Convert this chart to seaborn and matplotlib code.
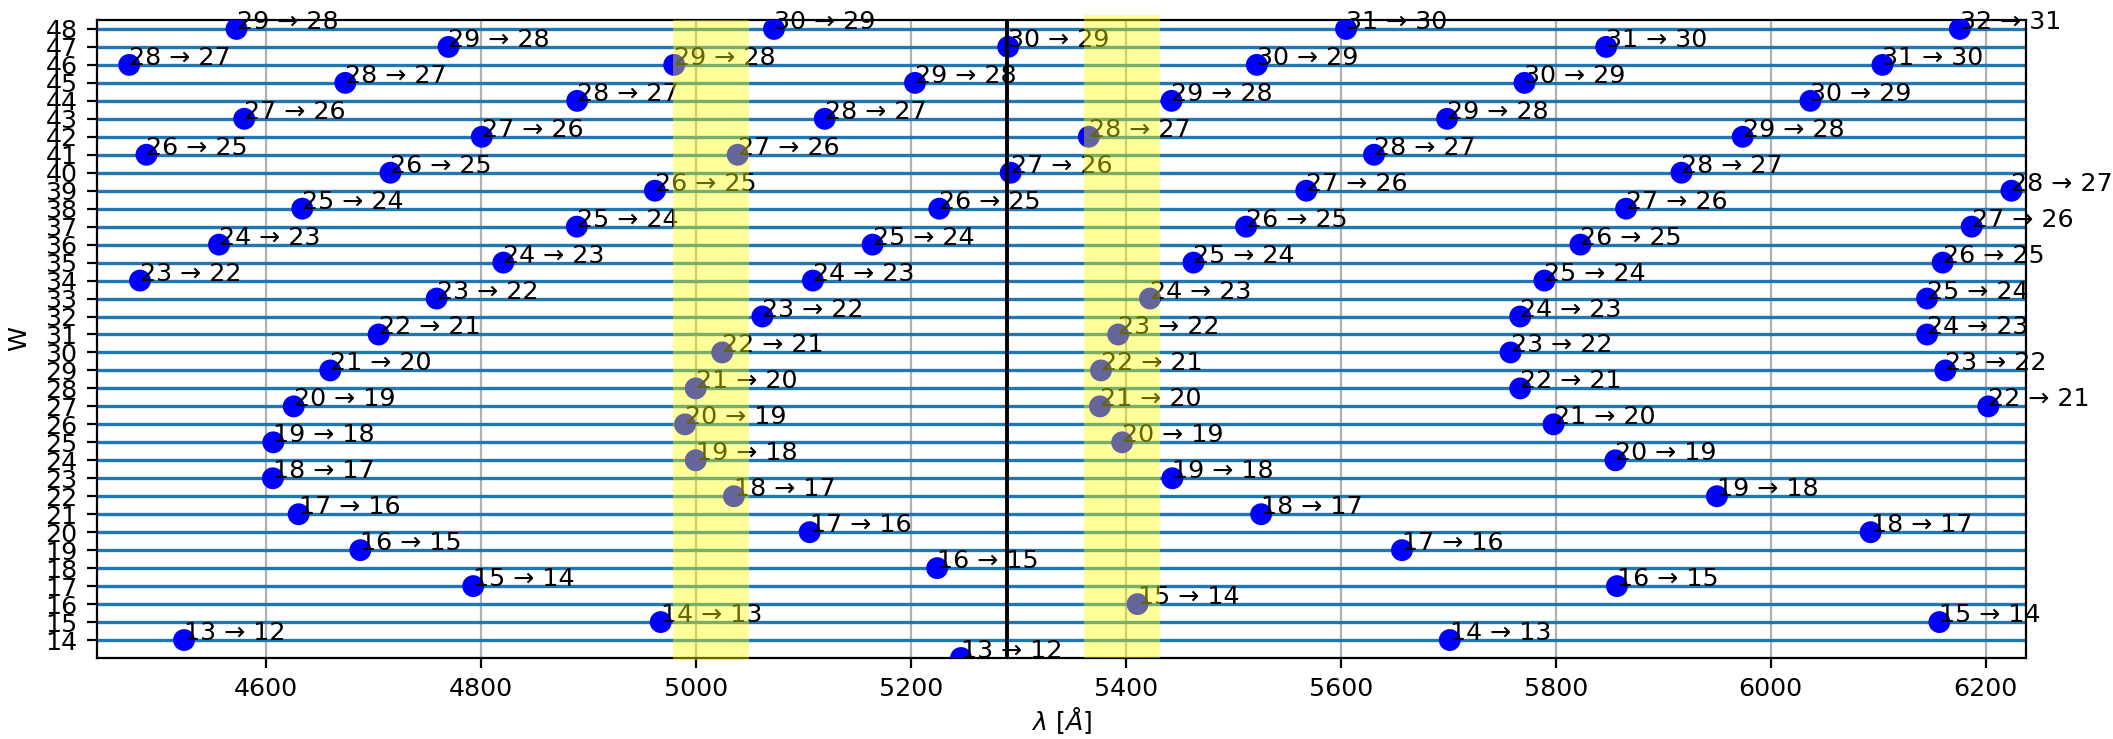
import matplotlib
matplotlib.use("Agg")
import matplotlib.pyplot as plt
import pandas as pd
import seaborn as sns

# Each series: upper level n of the n -> n-1 transition, its W value and wavelength [Å]
n_a = [13, 14, 15, 16, 17, 18, 19, 20, 21, 22, 23, 24, 25, 26, 27, 28, 29, 30]
w_a = [13, 15, 17, 19, 21, 23, 25, 27, 29, 31, 33, 35, 37, 39, 41, 43, 45, 47]
lam_a = [5246.8, 4967.4, 4793.0, 4688.0, 4630.6, 4606.6, 4607.0, 4626.0, 4660.0,
         4705.0, 4759.0, 4821.0, 4889.4, 4962.0, 5039.0, 5120.0, 5204.0, 5290.7]

n_b = [14, 15, 16, 17, 18, 19, 20, 21, 22, 23, 24, 25, 26, 27, 28, 29, 30, 31]
w_b = [14, 16, 18, 20, 22, 24, 26, 28, 30, 32, 34, 36, 38, 40, 42, 44, 46, 48]
lam_b = [5701.5, 5411.0, 5224.6, 5106.0, 5035.5, 5000.0, 4990.0, 5000.0, 5024.6,
         5062.0, 5109.0, 5164.5, 5226.6, 5293.0, 5365.7, 5442.6, 5522.0, 5605.0]

n_c = [15, 16, 17, 18, 19, 20, 21, 22, 23, 24, 25, 26, 27, 28, 29, 30, 31]
w_c = [15, 17, 19, 21, 23, 25, 27, 29, 31, 33, 35, 37, 39, 41, 43, 45, 47]
lam_c = [6157.0, 5857.0, 5657.0, 5526.0, 5443.4, 5396.7, 5376.0, 5377.0, 5393.0,
         5422.6, 5463.0, 5512.0, 5568.0, 5631.0, 5699.0, 5771.0, 5847.0]

n_d = [18, 19, 20, 21, 22, 23, 24, 25, 26, 27, 28, 29, 30, 31, 32]
w_d = [20, 22, 24, 26, 28, 30, 32, 34, 36, 38, 40, 42, 44, 46, 48]
lam_d = [6093.0, 5950.0, 5855.6, 5798.0, 5767.0, 5758.0, 5767.0, 5789.5, 5823.0,
         5865.5, 5917.0, 5974.0, 6037.0, 6104.0, 6176.0]

n_e = [22, 23, 24, 25, 26, 27, 28]
w_e = [27, 29, 31, 33, 35, 37, 39]
lam_e = [6202.5, 6162.5, 6145.5, 6145.5, 6160.0, 6187.0, 6224.0]

n_f = [13, 23, 24, 25, 26, 27, 28, 29, 30]
w_f = [14, 34, 36, 38, 40, 42, 44, 46, 48]
lam_f = [4524.0, 4483.0, 4556.5, 4634.0, 4716.0, 4801.0, 4889.7, 4980.0, 5072.8]

n_g = [26, 27, 28, 29]
w_g = [41, 43, 45, 47]
lam_g = [4489.0, 4580.0, 4674.0, 4770.0]

n_h = [28, 29]
w_h = [46, 48]
lam_h = [4473.0, 4572.8]

w_levels = list(range(14, 49))
x_ticks = [4600, 4800, 5000, 5200, 5400, 5600, 5800, 6000, 6200]
reference_line = 5290.0
bands = [(4979.0, 5050.0, 12.87, 48.5), (5361.0, 5432.0, 13.0, 48.78)]

frames = []
for n, w, lam in [(n_a, w_a, lam_a), (n_b, w_b, lam_b), (n_c, w_c, lam_c),
                  (n_d, w_d, lam_d), (n_e, w_e, lam_e), (n_f, w_f, lam_f),
                  (n_g, w_g, lam_g), (n_h, w_h, lam_h)]:
    frames.append(pd.DataFrame({"n": n, "W": w, "lam": lam}))
lines = pd.concat(frames, ignore_index=True)

plt.rcParams["font.size"] = 9.1
fig = plt.figure(figsize=(10.565, 3.695), dpi=200)
ax = fig.add_axes([0.0459, 0.1096, 0.9129, 0.8634])

for w in w_levels:
    ax.axhline(w, color="#1f77b4", lw=1.2, zorder=2)

sns.scatterplot(data=lines, x="lam", y="W", color="blue", s=62,
                linewidth=0, edgecolor="none", ax=ax, zorder=3, legend=False)

for _, row in lines.iterrows():
    ax.text(row["lam"], row["W"], f"{int(row['n'])} \u2192 {int(row['n']) - 1}",
            zorder=3)

ax.axvline(reference_line, color="black", lw=1.4, zorder=4)

for x0, x1, y0, y1 in bands:
    ax.fill_betweenx([y0, y1], x0, x1, color="yellow", alpha=0.4,
                     linewidth=0, zorder=5, clip_on=False)

ax.set_xlim(4443, 6237.5)
ax.set_ylim(13.0, 48.5)
ax.set_yticks(w_levels)
ax.set_xticks(x_ticks)
ax.grid(axis="x", color="#b0b0b0", lw=0.8)
ax.set_xlabel(r"$\lambda\ [\AA]$", labelpad=1.5)
ax.set_ylabel("W", labelpad=5)

fig.savefig("out.png", dpi=200)
